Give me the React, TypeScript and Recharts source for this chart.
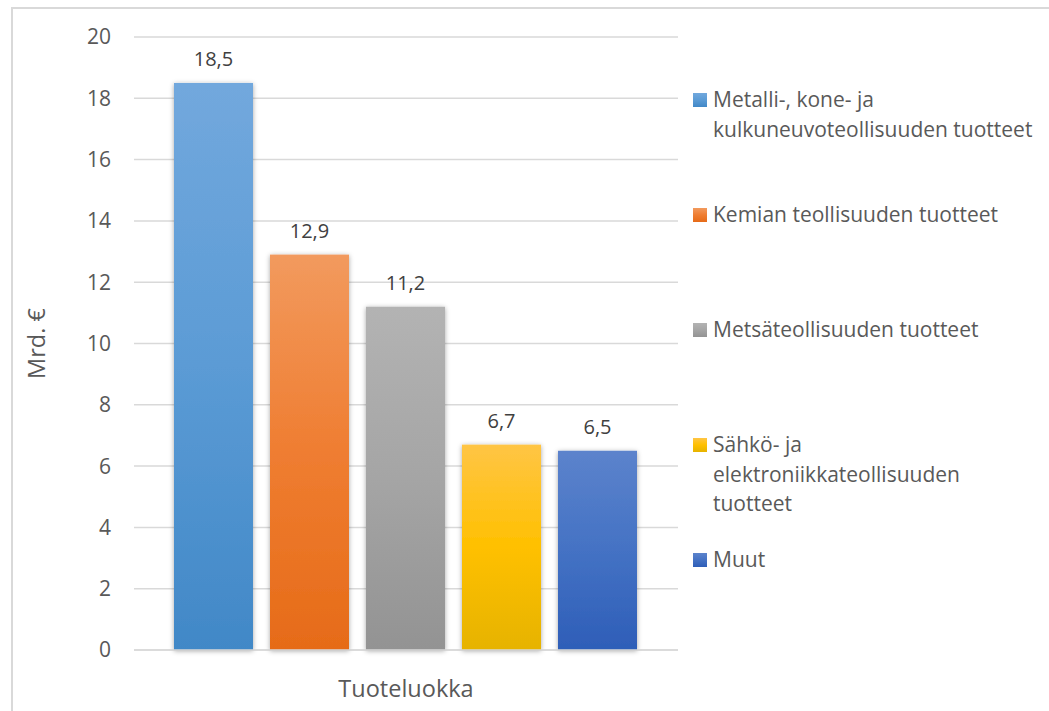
import React from 'react';
import { BarChart, Bar, XAxis, YAxis, CartesianGrid, Legend, LabelList } from 'recharts';

const category = 'Tuoteluokka';
const seriesNames = [
  'Metalli-, kone- ja kulkuneuvoteollisuuden tuotteet',
  'Kemian teollisuuden tuotteet',
  'Metsäteollisuuden tuotteet',
  'Sähkö- ja elektroniikkateollisuuden tuotteet',
  'Muut',
];
const seriesValues = [18.5, 12.9, 11.2, 6.7, 6.5];
const yTicks = [0, 2, 4, 6, 8, 10, 12, 14, 16, 18, 20];
const yLabel = 'Mrd. €';
const gradients = [
  ['#72A8DD', '#5B9BD5', '#4188C7'],
  ['#F29A5E', '#EF7D31', '#E66B18'],
  ['#B3B3B3', '#A5A5A5', '#939393'],
  ['#FFC545', '#FFC000', '#E6B300'],
  ['#5C83CC', '#4472C4', '#2E5EB8'],
];

const data = [
  seriesValues.reduce((acc: any, v, i) => {
    acc['s' + i] = v;
    return acc;
  }, { name: category }),
];

const FONT = '"Open Sans", sans-serif';
const TEXT = '#595959';

const shadowShape = (props: any) => {
  const { x, y, width, height, fill } = props;
  if (height == null || height <= 0) return <g />;
  return <rect x={x} y={y} width={width} height={height} fill={fill} filter="url(#barShadow)" />;
};

const LegendContent = (props: any) => {
  const { payload } = props;
  return (
    <div style={{ fontFamily: FONT, fontSize: 21, color: TEXT, lineHeight: '29.5px' }}>
      {(payload || []).map((p: any, i: number) => (
        <div key={i} style={{ display: 'flex', alignItems: 'flex-start', height: 115 }}>
          <svg width={14} height={14} style={{ marginTop: 8, flex: '0 0 14px' }}>
            <rect x={0} y={0} width={14} height={14} fill={p.color} />
          </svg>
          <div style={{ marginLeft: 6, width: 328 }}>{p.value}</div>
        </div>
      ))}
    </div>
  );
};

const fmt = (v: any) => String(v).replace('.', ',');

export default function App() {
  return (
    <div style={{ position: 'absolute', left: 0, top: 0, width: 1049, height: 711, background: '#fff', overflow: 'hidden' }}>
      <div style={{ position: 'absolute', left: 11, top: 7, width: 1100, height: 800, borderLeft: '2px solid #D9D9D9', borderTop: '2px solid #D9D9D9' }} />
      <BarChart
        width={1049}
        height={711}
        data={data}
        margin={{ top: 37, right: 371, bottom: 0, left: 0 }}
        barCategoryGap={40}
        barGap={17}
        style={{ position: 'absolute', left: 0, top: 0 }}
      >
        <defs>
          {gradients.map((g, i) => (
            <linearGradient key={i} id={`grad${i}`} x1="0" y1="0" x2="0" y2="1">
              <stop offset="0%" stopColor={g[0]} />
              <stop offset="50%" stopColor={g[1]} />
              <stop offset="100%" stopColor={g[2]} />
            </linearGradient>
          ))}
          <filter id="barShadow" x="-20%" y="-5%" width="140%" height="110%">
            <feDropShadow dx="0" dy="1" stdDeviation="2.5" floodColor="#000" floodOpacity="0.35" />
          </filter>
        </defs>
        <CartesianGrid vertical={false} stroke="#D9D9D9" strokeWidth={1.5} />
        <XAxis
          dataKey="name"
          tick={false}
          tickLine={false}
          axisLine={{ stroke: '#D9D9D9', strokeWidth: 1.5 }}
          height={61}
          label={{ value: category, position: 'insideBottom', offset: 14, fill: TEXT, fontSize: 23.5, fontFamily: FONT }}
        />
        <YAxis
          domain={[0, 20]}
          ticks={yTicks}
          interval={0}
          width={134}
          tickLine={false}
          axisLine={false}
          tickSize={0}
          tickMargin={23}
          tick={{ fill: TEXT, fontSize: 21, fontFamily: FONT }}
          label={{ value: yLabel, angle: -90, position: 'insideLeft', offset: 37, fill: TEXT, fontSize: 23.5, fontFamily: FONT, style: { textAnchor: 'middle' } }}
        />
        <Legend
          layout="vertical"
          align="center"
          verticalAlign="middle"
          itemSorter={(item: any) => seriesNames.indexOf(item.value)}
          content={<LegendContent />}
          wrapperStyle={{ position: 'absolute', left: 693, top: 85, width: 356, height: 580 }}
        />
        {seriesNames.map((n, i) => (
          <Bar key={i} dataKey={'s' + i} name={n} fill={`url(#grad${i})`} isAnimationActive={false} shape={shadowShape}>
            <LabelList dataKey={'s' + i} position="top" offset={17} formatter={fmt} fill="#404040" fontSize={20} fontFamily={FONT} />
          </Bar>
        ))}
      </BarChart>
    </div>
  );
}
